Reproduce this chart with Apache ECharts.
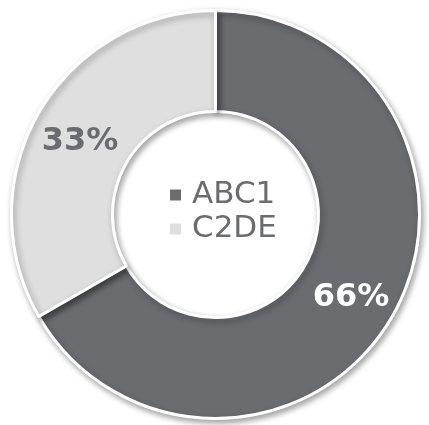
<!DOCTYPE html>
<html>
<head>
<meta charset="utf-8">
<script src="https://cdn.jsdelivr.net/npm/echarts@6/dist/echarts.min.js"></script>
<style>
html,body{margin:0;padding:0;background:#fff;}
#chart{width:429px;height:425px;}
</style>
</head>
<body>
<div id="chart"></div>
<script>
var categories = ['ABC1', 'C2DE'];
var values = [66, 33];
var colors = ['#6b6c70', '#dfdfdf'];
var labelColors = ['#ffffff', '#6b6c70'];

var chart = echarts.init(document.getElementById('chart'), null, {renderer: 'canvas'});
var data = categories.map(function (c, i) {
  return {
    name: c,
    value: values[i],
    itemStyle: {color: colors[i]},
    label: {color: labelColors[i]}
  };
});
chart.setOption({
  animation: false,
  legend: {
    orient: 'vertical',
    left: 163,
    top: 173,
    icon: 'rect',
    itemWidth: 13,
    itemHeight: 13,
    itemGap: 0,
    padding: 5,
    data: categories,
    textStyle: {
      fontFamily: 'DejaVu Sans',
      fontSize: 31,
      lineHeight: 34,
      color: '#6b6c70',
      padding: [0, 0, 0, 5]
    }
  },
  series: [{
    type: 'pie',
    center: [215.5, 214.5],
    radius: [103, 204],
    startAngle: 90,
    clockwise: true,
    avoidLabelOverlap: false,
    label: {
      show: true,
      position: 'inside',
      formatter: '{c}%',
      fontFamily: 'DejaVu Sans',
      fontWeight: 'bold',
      fontSize: 32,
      offset: [0, 5]
    },
    labelLine: {show: false},
    emphasis: {disabled: true},
    itemStyle: {
      borderColor: '#ffffff',
      borderWidth: 3,
      shadowBlur: 6,
      shadowOffsetX: 2,
      shadowOffsetY: 3,
      shadowColor: 'rgba(0,0,0,0.35)'
    },
    data: data
  }]
});
</script>
</body>
</html>
